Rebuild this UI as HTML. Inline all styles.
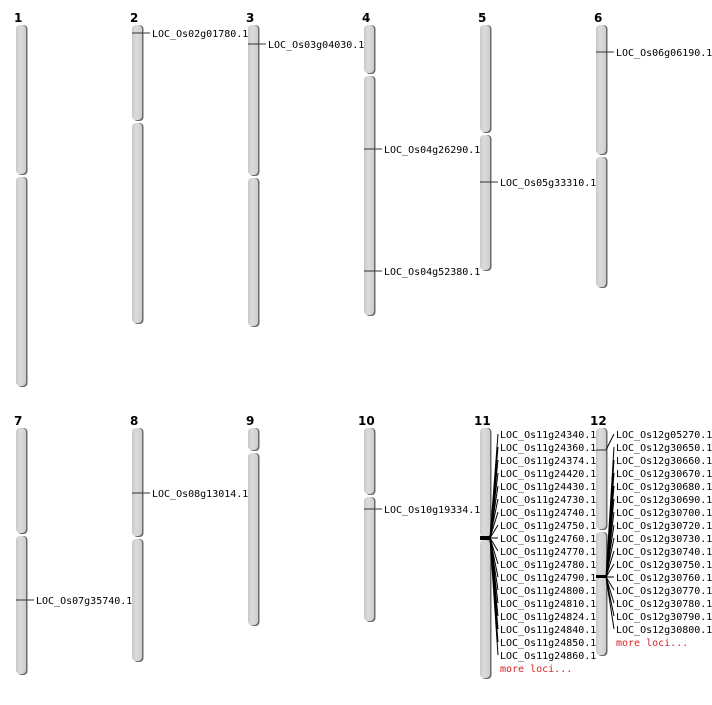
<!DOCTYPE html>
<html><head><meta charset="utf-8"><style>
body{margin:0;background:#fff}
svg text{font-family:"DejaVu Sans Mono","Liberation Mono",monospace;font-size:10px;fill:#000}
svg text.h{font-family:"DejaVu Sans","Liberation Sans",sans-serif;font-weight:bold;font-size:12px}
svg text.r{fill:#d22}
</style></head><body>
<svg width="712" height="700" xmlns="http://www.w3.org/2000/svg">
<defs>
<linearGradient id="g" x1="0" x2="1"><stop offset="0" stop-color="#c8c8c8"/><stop offset="0.4" stop-color="#dcdcdc"/><stop offset="1" stop-color="#cdcdcd"/></linearGradient>
</defs>
<g stroke="none">
<g fill="#6a6a6a">
<rect x="17.5" y="25" width="10" height="150" rx="4"/><rect x="17.5" y="177" width="10" height="210" rx="4"/>
<rect x="133.5" y="25" width="10" height="96" rx="4"/><rect x="133.5" y="123" width="10" height="201" rx="4"/>
<rect x="249.5" y="25" width="10" height="151" rx="4"/><rect x="249.5" y="178" width="10" height="149" rx="4"/>
<rect x="365.5" y="25" width="10" height="49" rx="4"/><rect x="365.5" y="76" width="10" height="240" rx="4"/>
<rect x="481.5" y="25" width="10" height="108" rx="4"/><rect x="481.5" y="135" width="10" height="136" rx="4"/>
<rect x="597.5" y="25" width="10" height="130" rx="4"/><rect x="597.5" y="157" width="10" height="131" rx="4"/>
<rect x="17.5" y="428" width="10" height="106" rx="4"/><rect x="17.5" y="536" width="10" height="139" rx="4"/>
<rect x="133.5" y="428" width="10" height="109" rx="4"/><rect x="133.5" y="539" width="10" height="123" rx="4"/>
<rect x="249.5" y="428" width="10" height="23" rx="4"/><rect x="249.5" y="453" width="10" height="173" rx="4"/>
<rect x="365.5" y="428" width="10" height="67" rx="4"/><rect x="365.5" y="497" width="10" height="125" rx="4"/>
<rect x="481.5" y="428" width="10" height="110" rx="4"/><rect x="481.5" y="540" width="10" height="139" rx="4"/>
<rect x="597.5" y="428" width="10" height="102" rx="4"/><rect x="597.5" y="532" width="10" height="124" rx="4"/>
</g>
<g fill="url(#g)">
<rect x="16" y="25" width="10" height="149" rx="4"/><rect x="16" y="177" width="10" height="209" rx="4"/>
<rect x="132" y="25" width="10" height="95" rx="4"/><rect x="132" y="123" width="10" height="200" rx="4"/>
<rect x="248" y="25" width="10" height="150" rx="4"/><rect x="248" y="178" width="10" height="148" rx="4"/>
<rect x="364" y="25" width="10" height="48" rx="4"/><rect x="364" y="76" width="10" height="239" rx="4"/>
<rect x="480" y="25" width="10" height="107" rx="4"/><rect x="480" y="135" width="10" height="135" rx="4"/>
<rect x="596" y="25" width="10" height="129" rx="4"/><rect x="596" y="157" width="10" height="130" rx="4"/>
<rect x="16" y="428" width="10" height="105" rx="4"/><rect x="16" y="536" width="10" height="138" rx="4"/>
<rect x="132" y="428" width="10" height="108" rx="4"/><rect x="132" y="539" width="10" height="122" rx="4"/>
<rect x="248" y="428" width="10" height="22" rx="4"/><rect x="248" y="453" width="10" height="172" rx="4"/>
<rect x="364" y="428" width="10" height="66" rx="4"/><rect x="364" y="497" width="10" height="124" rx="4"/>
<rect x="480" y="428" width="10" height="109" rx="4"/><rect x="480" y="540" width="10" height="138" rx="4"/>
<rect x="596" y="428" width="10" height="101" rx="4"/><rect x="596" y="532" width="10" height="123" rx="4"/>
</g>
</g>
<g>
<text class="h" x="14" y="22">1</text><text class="h" x="130" y="22">2</text><text class="h" x="246" y="22">3</text>
<text class="h" x="362" y="22">4</text><text class="h" x="478" y="22">5</text><text class="h" x="594" y="22">6</text>
<text class="h" x="14" y="425">7</text><text class="h" x="130" y="425">8</text><text class="h" x="246" y="425">9</text>
<text class="h" x="358" y="425">10</text><text class="h" x="474" y="425">11</text><text class="h" x="590" y="425">12</text>
</g>
<g stroke="#333" stroke-width="1">
<line x1="132" y1="33" x2="150" y2="33"/><line x1="248" y1="44" x2="266" y2="44"/>
<line x1="364" y1="149" x2="382" y2="149"/><line x1="364" y1="271" x2="382" y2="271"/>
<line x1="480" y1="182" x2="498" y2="182"/><line x1="596" y1="52" x2="614" y2="52"/>
<line x1="16" y1="600" x2="34" y2="600"/><line x1="132" y1="493" x2="150" y2="493"/>
<line x1="364" y1="509" x2="382" y2="509"/>
<line x1="596" y1="450" x2="606" y2="450"/>
</g>
<text x="152" y="37">LOC_Os02g01780.1</text><text x="268" y="48">LOC_Os03g04030.1</text>
<text x="384" y="153">LOC_Os04g26290.1</text><text x="384" y="275">LOC_Os04g52380.1</text>
<text x="500" y="186">LOC_Os05g33310.1</text><text x="616" y="56">LOC_Os06g06190.1</text>
<text x="36" y="604">LOC_Os07g35740.1</text><text x="152" y="497">LOC_Os08g13014.1</text>
<text x="384" y="513">LOC_Os10g19334.1</text>
<rect x="480" y="536" width="11" height="4" fill="#000"/>
<rect x="596" y="575" width="11" height="3" fill="#000"/>
<g stroke="#000" stroke-width="1">
<path d="M490 538L498 434M490 538L498 447M490 538L498 460M490 538L498 473M490 538L498 486M490 538L498 499M490 538L498 512M490 538L498 525M490 538L498 538M490 538L498 551M490 538L498 564M490 538L498 577M490 538L498 590M490 538L498 603M490 538L498 616M490 538L498 629M490 538L498 642M490 538L498 655"/>
<path d="M606 450L614 434M606 577L614 447M606 577L614 460M606 577L614 473M606 577L614 486M606 577L614 499M606 577L614 512M606 577L614 525M606 577L614 538M606 577L614 551M606 577L614 564M606 577L614 577M606 577L614 590M606 577L614 603M606 577L614 616M606 577L614 629"/>
</g>
<g>
<text x="500" y="438">LOC_Os11g24340.1</text><text x="500" y="451">LOC_Os11g24360.1</text>
<text x="500" y="464">LOC_Os11g24374.1</text><text x="500" y="477">LOC_Os11g24420.1</text>
<text x="500" y="490">LOC_Os11g24430.1</text><text x="500" y="503">LOC_Os11g24730.1</text>
<text x="500" y="516">LOC_Os11g24740.1</text><text x="500" y="529">LOC_Os11g24750.1</text>
<text x="500" y="542">LOC_Os11g24760.1</text><text x="500" y="555">LOC_Os11g24770.1</text>
<text x="500" y="568">LOC_Os11g24780.1</text><text x="500" y="581">LOC_Os11g24790.1</text>
<text x="500" y="594">LOC_Os11g24800.1</text><text x="500" y="607">LOC_Os11g24810.1</text>
<text x="500" y="620">LOC_Os11g24824.1</text><text x="500" y="633">LOC_Os11g24840.1</text>
<text x="500" y="646">LOC_Os11g24850.1</text><text x="500" y="659">LOC_Os11g24860.1</text>
<text class="r" x="500" y="672">more loci...</text>
<text x="616" y="438">LOC_Os12g05270.1</text><text x="616" y="451">LOC_Os12g30650.1</text>
<text x="616" y="464">LOC_Os12g30660.1</text><text x="616" y="477">LOC_Os12g30670.1</text>
<text x="616" y="490">LOC_Os12g30680.1</text><text x="616" y="503">LOC_Os12g30690.1</text>
<text x="616" y="516">LOC_Os12g30700.1</text><text x="616" y="529">LOC_Os12g30720.1</text>
<text x="616" y="542">LOC_Os12g30730.1</text><text x="616" y="555">LOC_Os12g30740.1</text>
<text x="616" y="568">LOC_Os12g30750.1</text><text x="616" y="581">LOC_Os12g30760.1</text>
<text x="616" y="594">LOC_Os12g30770.1</text><text x="616" y="607">LOC_Os12g30780.1</text>
<text x="616" y="620">LOC_Os12g30790.1</text><text x="616" y="633">LOC_Os12g30800.1</text>
<text class="r" x="616" y="646">more loci...</text>
</g>
</svg>
</body></html>
